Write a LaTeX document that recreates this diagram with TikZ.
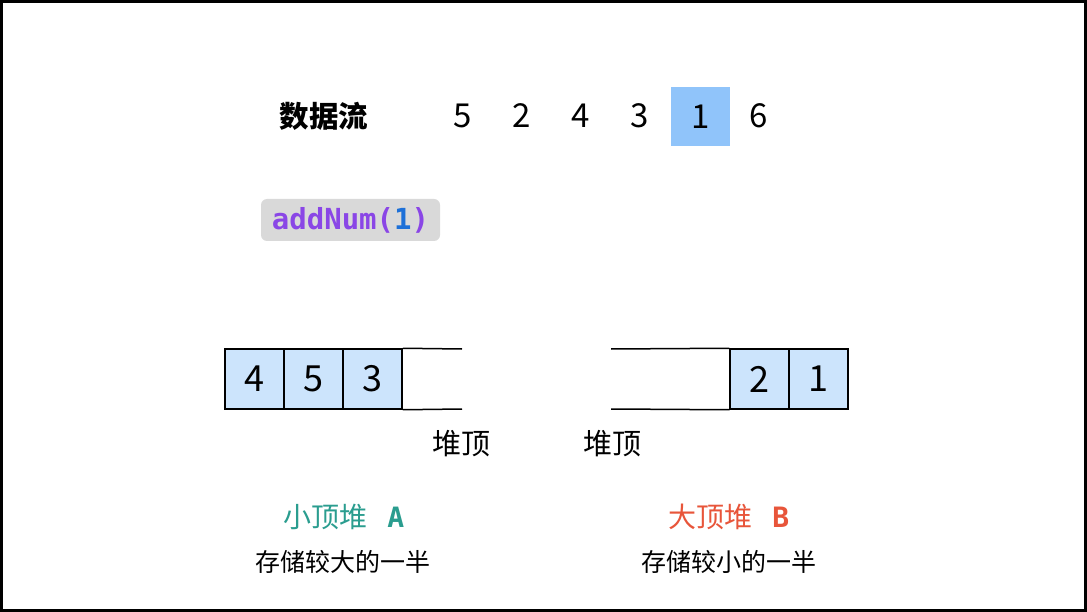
\documentclass[tikz,border=0pt]{standalone}
\usepackage{fontspec}
\setmainfont{Noto Sans CJK SC}
\newfontfamily\monof{DejaVu Sans Mono}
\definecolor{hiblue}{HTML}{90C4FA}
\definecolor{cellblue}{HTML}{CCE4FC}
\definecolor{codegray}{HTML}{D9D9D9}
\definecolor{codepurple}{HTML}{8A46E6}
\definecolor{codeblue}{HTML}{1D70D8}
\definecolor{tealc}{HTML}{2A9D8F}
\definecolor{redc}{HTML}{E8553A}
\begin{document}
\begin{tikzpicture}[x=1pt,y=-1pt,
  cell/.style={draw=black,line width=1.5pt,fill=cellblue,minimum width=59pt,minimum height=60pt,inner sep=0pt,font=\fontsize{36}{36}\selectfont},
  numtxt/.style={inner sep=0pt,minimum width=59pt,minimum height=59pt,font=\fontsize{33}{33}\selectfont},
  heapline/.style={line width=1.5pt,draw=black},
  toplbl/.style={font=\fontsize{29}{29}\selectfont},
  desc/.style={font=\fontsize{25}{25}\selectfont},
  ttl/.style={font=\fontsize{28}{28}\selectfont}]
\useasboundingbox (0,0) rectangle (1087,612);
\fill[white] (0,0) rectangle (1087,612);
\draw[line width=3pt] (1.5,1.5) rectangle (1085.5,610.5);
% data stream
\node[font=\fontsize{29.5}{29.5}\selectfont\bfseries] (ds) at (324,116) {数据流};
\node[numtxt] (n1) at (463,116) {5};
\node[numtxt] (n2) at (522,116) {2};
\node[numtxt] (n3) at (581,116) {4};
\node[numtxt] (n4) at (640,116) {3};
\node[numtxt,fill=hiblue] (n5) at (700.5,116.5) {1};
\node[numtxt] (n6) at (759,116) {6};
% addNum
\node[fill=codegray,rounded corners=6pt,minimum width=179pt,minimum height=42pt,inner sep=0pt,
  font=\monof\bfseries\fontsize{29}{29}\selectfont] (call) at (350.5,220)
  {\textcolor{codepurple}{addNum(}\textcolor{codeblue}{1}\textcolor{codepurple}{)}};
% left heap (min heap A)
\node[cell] (a1) at (254.5,379) {4};
\node[cell] (a2) at (313.5,379) {5};
\node[cell] (a3) at (372.5,379) {3};
\coordinate (aend1) at (462,349);
\coordinate (aend2) at (462,409);
\draw[heapline] (a3.north east) -- (aend1);
\draw[heapline] (a3.south east) -- (aend2);
\node[toplbl] (atop) at (461,444) {堆顶};
% right heap (max heap B)
\node[cell] (b1) at (759.5,379) {2};
\node[cell] (b2) at (818.5,379) {1};
\coordinate (bend1) at (611,349);
\coordinate (bend2) at (611,409);
\draw[heapline] (b1.north west) -- (bend1);
\draw[heapline] (b1.south west) -- (bend2);
\node[toplbl] (btop) at (612,444) {堆顶};
% labels
\node[ttl,text=tealc] (la) at (344,517) {小顶堆\hspace{0.7em}{\monof\bfseries A}};
\node[desc] (da) at (343,562) {存储较大的一半};
\node[ttl,text=redc] (lb) at (729,517) {大顶堆\hspace{0.7em}{\monof\bfseries B}};
\node[desc] (db) at (729,562) {存储较小的一半};
\end{tikzpicture}
\end{document}
